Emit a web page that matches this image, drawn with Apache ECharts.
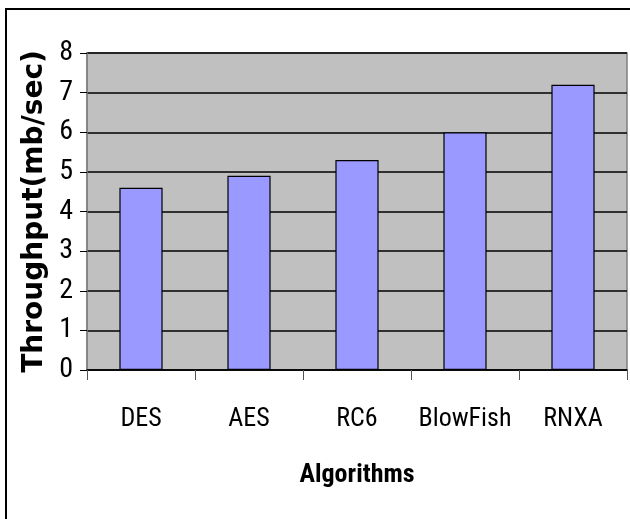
<!DOCTYPE html>
<html>
<head>
<meta charset="utf-8">
<script src="https://cdn.jsdelivr.net/npm/echarts@6/dist/echarts.min.js"></script>
<style>
html,body{margin:0;padding:0;background:#fff;}
#chart{width:630px;height:519px;}
</style>
</head>
<body>
<div id="chart"></div>
<script>
var categories = ["DES", "AES", "RC6", "BlowFish", "RNXA"];
var throughput = [4.6, 4.9, 5.3, 6.0, 7.2];
var yTicks = [0, 1, 2, 3, 4, 5, 6, 7, 8];

var narrow = '"Roboto Condensed", "Liberation Sans", sans-serif';
var chart = echarts.init(document.getElementById('chart'), null, {renderer: 'canvas'});
chart.setOption({
  animation: false,
  backgroundColor: '#ffffff',
  graphic: [{
    type: 'rect',
    shape: {x: 6, y: 9, width: 800, height: 800},
    style: {fill: 'none', stroke: '#000', lineWidth: 2},
    silent: true,
    z: 100
  }],
  grid: {
    left: 87, right: 3, top: 53, bottom: 149,
    show: true,
    backgroundColor: '#c0c0c0',
    borderColor: '#808080',
    borderWidth: 1.5
  },
  xAxis: {
    type: 'category',
    data: categories,
    name: 'Algorithms',
    nameLocation: 'middle',
    nameGap: 92,
    nameTextStyle: {fontFamily: narrow, fontWeight: 'bold', fontSize: 26, color: '#000'},
    axisLine: {show: true, lineStyle: {color: '#000', width: 1.5}},
    axisTick: {show: true, alignWithLabel: false, length: 10, lineStyle: {color: '#555', width: 1}},
    axisLabel: {fontFamily: narrow, fontSize: 26, color: '#000', margin: 36, interval: 0},
    splitLine: {show: false}
  },
  yAxis: {
    type: 'value',
    min: yTicks[0],
    max: yTicks[yTicks.length - 1],
    interval: 1,
    name: 'Throughput(mb/sec)',
    nameLocation: 'middle',
    nameRotate: 90,
    nameGap: 25,
    nameTextStyle: {fontFamily: '"DejaVu Sans", sans-serif', fontWeight: 'bold', fontSize: 28, color: '#000'},
    axisLine: {show: true, lineStyle: {color: '#808080', width: 1.5}},
    axisTick: {show: true, length: 7, lineStyle: {color: '#000', width: 1}},
    axisLabel: {fontFamily: narrow, fontSize: 28, color: '#000', margin: 14},
    splitLine: {show: true, lineStyle: {color: '#000', width: 1.5}}
  },
  series: [{
    type: 'bar',
    data: throughput,
    barWidth: '40%',
    itemStyle: {color: '#9999ff', borderColor: '#000', borderWidth: 1.2}
  }]
});
</script>
</body>
</html>
